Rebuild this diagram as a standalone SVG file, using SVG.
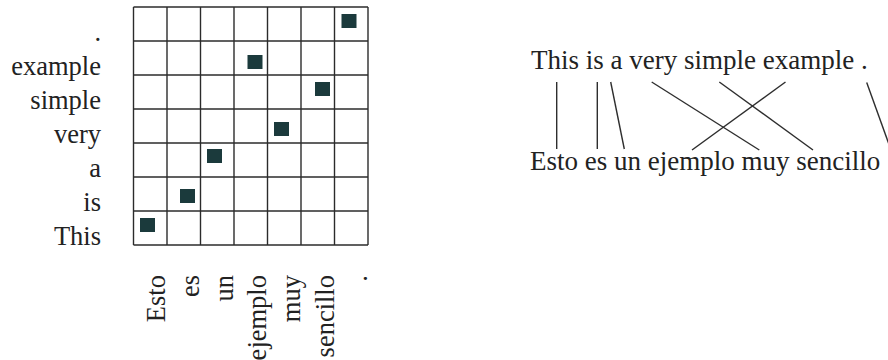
<svg xmlns="http://www.w3.org/2000/svg" width="888" height="360" viewBox="0 0 888 360">
<defs>
<style>
text{font-family:"Liberation Serif","Times New Roman",serif;fill:#222;}
.lbl{font-size:26.5px;}
.sent{font-size:27px;}
.grid line{stroke:#2b2b2b;stroke-width:1.4;}
.cell{fill:#1b3a3c;}
.links line{stroke:#2e2e2e;stroke-width:1.4;}
</style>
</defs>
<rect width="888" height="360" fill="#ffffff"/>
<g id="matrix" class="grid">
<line x1="133.5" y1="7" x2="133.5" y2="245"/>
<line x1="167" y1="7" x2="167" y2="245"/>
<line x1="200.5" y1="7" x2="200.5" y2="245"/>
<line x1="234" y1="7" x2="234" y2="245"/>
<line x1="267.5" y1="7" x2="267.5" y2="245"/>
<line x1="301" y1="7" x2="301" y2="245"/>
<line x1="334.5" y1="7" x2="334.5" y2="245"/>
<line x1="368" y1="7" x2="368" y2="245"/>
<line x1="133.5" y1="7" x2="368" y2="7"/>
<line x1="133.5" y1="41" x2="368" y2="41"/>
<line x1="133.5" y1="75" x2="368" y2="75"/>
<line x1="133.5" y1="109" x2="368" y2="109"/>
<line x1="133.5" y1="143" x2="368" y2="143"/>
<line x1="133.5" y1="177" x2="368" y2="177"/>
<line x1="133.5" y1="211" x2="368" y2="211"/>
<line x1="133.5" y1="245" x2="368" y2="245"/>
</g>
<g id="alignments">
<rect class="cell" x="341.5" y="14" width="15" height="14"/>
<rect class="cell" x="247.5" y="55" width="15" height="14"/>
<rect class="cell" x="315" y="82" width="15" height="14"/>
<rect class="cell" x="274" y="122" width="15" height="14"/>
<rect class="cell" x="207" y="149" width="15" height="14"/>
<rect class="cell" x="180" y="189" width="15" height="14"/>
<rect class="cell" x="140" y="218" width="15" height="14"/>
</g>
<g id="row-labels" class="lbl" text-anchor="end">
<text x="101" y="41">.</text>
<text x="101" y="75">example</text>
<text x="101" y="109">simple</text>
<text x="101" y="143">very</text>
<text x="101" y="177">a</text>
<text x="101" y="211">is</text>
<text x="101" y="245">This</text>
</g>
<g id="col-labels" class="lbl" text-anchor="end">
<text transform="translate(165,275) rotate(-90)">Esto</text>
<text transform="translate(199,275) rotate(-90)">es</text>
<text transform="translate(232.5,275) rotate(-90)">un</text>
<text transform="translate(266,275) rotate(-90)">ejemplo</text>
<text transform="translate(300,275) rotate(-90)">muy</text>
<text transform="translate(333.5,275) rotate(-90)">sencillo</text>
<text transform="translate(367,275) rotate(-90)">.</text>
</g>
<g id="english">
<text class="sent" x="531" y="69">This is a very simple example .</text>
</g>
<g id="spanish">
<text class="sent" x="530" y="170">Esto es un ejemplo muy sencillo .</text>
</g>
<g id="connectors" class="links">
<line x1="556.7" y1="82" x2="556.7" y2="149"/>
<line x1="597.3" y1="82" x2="597.3" y2="149"/>
<line x1="610.7" y1="82" x2="624.3" y2="149"/>
<line x1="651.7" y1="82" x2="759.3" y2="150"/>
<line x1="719.3" y1="82" x2="813" y2="150"/>
<line x1="785.5" y1="82" x2="692" y2="150"/>
<line x1="866.7" y1="82.5" x2="891" y2="150"/>
</g>
</svg>
